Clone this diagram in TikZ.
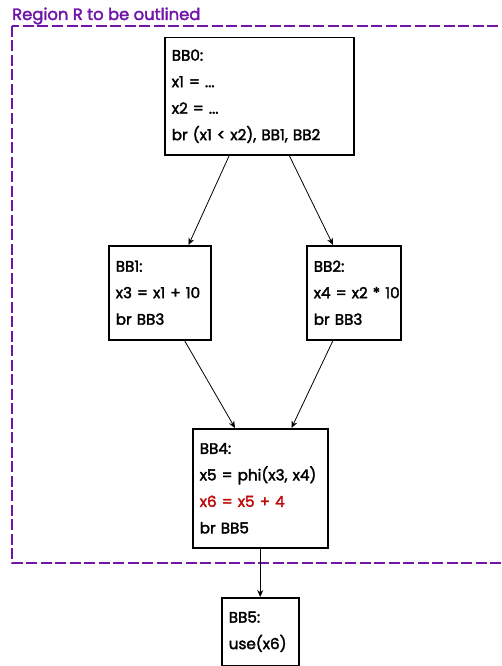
\documentclass[tikz,border=0pt]{standalone}
\usepackage{fontspec}
\setmainfont{Poppins}
\newfontfamily\boxfont{Poppins}[FakeBold=2.2]
\usetikzlibrary{arrows.meta}
\definecolor{regionpurple}{RGB}{112,20,170}
\definecolor{hotred}{RGB}{190,10,10}
\begin{document}
\begin{tikzpicture}[x=1pt,y=-1pt,
  bb/.style={draw=black,line width=1.5pt,anchor=north west,align=left,
    inner xsep=7pt,inner ysep=0pt,font=\boxfont\fontsize{15.2}{26.5}\selectfont},
  edge/.style={-{Stealth[length=7pt,width=6pt]},line width=0.8pt},
  region/.style={draw=regionpurple,line width=2.6pt,dash pattern=on 11pt off 3.5pt}]
\useasboundingbox (0,0) rectangle (502,666);
\clip (0,0) rectangle (502,666);

% outlined region
\draw[region] (12,26) rectangle (530,563);
\node[anchor=base west,inner sep=0pt,text=regionpurple,font=\boxfont\fontsize{16.4}{18}\selectfont]
  (title) at (12,20) {Region R to be outlined};

% basic blocks
\node[bb,text width=175pt,minimum height=117pt] (bb0) at (164,37)
  {BB0:\\x1 = ...\\x2 = ...\\br (x1 < x2), BB1, BB2};
\node[bb,text width=88pt,minimum height=94pt] (bb1) at (108,245)
  {BB1:\\x3 = x1 + 10\\br BB3};
\node[bb,text width=80pt,minimum height=94pt] (bb2) at (306,245)
  {BB2:\\\makebox[80pt][l]{x4 = x2 * 10}\\br BB3};
\node[bb,text width=121pt,minimum height=119pt] (bb4) at (192,428)
  {BB4:\\x5 = phi(x3, x4)\\\textcolor{hotred}{x6 = x5 + 4}\\br BB5};
\node[bb,text width=63pt,minimum height=68pt] (bb5) at (221,597)
  {BB5:\\use(x6)};

% control-flow edges
\draw[edge] ([xshift=-30pt]bb0.south) -- ([xshift=-23pt]bb1.north east);
\draw[edge] ([xshift=30pt]bb0.south) -- ([xshift=27pt]bb2.north west);
\draw[edge] ([xshift=-27pt]bb1.south east) -- ([xshift=43pt]bb4.north west);
\draw[edge] ([xshift=27pt]bb2.south west) -- ([xshift=-37pt]bb4.north east);
\draw[edge] (bb4.south) -- (bb5.north);
\end{tikzpicture}
\end{document}
